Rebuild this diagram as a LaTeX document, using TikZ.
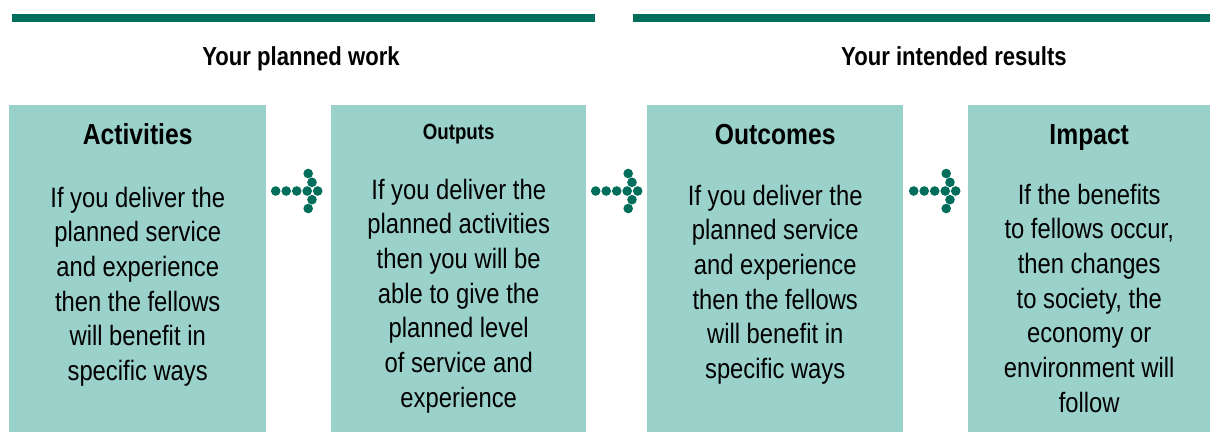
\documentclass[tikz,border=0pt]{standalone}
\usepackage{fontspec}
\setmainfont{Liberation Sans}[FakeStretch=0.85]
\usetikzlibrary{calc,positioning}

\definecolor{leaf}{HTML}{006E5A}
\definecolor{mint}{HTML}{9AD1CA}

\tikzset{
  stage/.style={fill=mint, draw=none, inner sep=0pt, anchor=north west, minimum height=327pt},
  heading/.style={font=\fontsize{26}{30}\selectfont\bfseries, anchor=base, inner sep=0pt},
  title/.style={font=\fontsize{29}{34}\selectfont\bfseries, anchor=base, inner sep=0pt},
  body/.style={font=\fontsize{28}{34.7}\selectfont, align=center, anchor=north, inner sep=0pt},
  dotarrow/.pic={
    % shaft of five dots, then the two arms of the head
    \foreach \x in {-42,-31.5,-21,-10.5,0}
      \fill[leaf] (\x,0) circle (4.8pt);
    \foreach \s in {1,-1} {
      \fill[leaf] (-5.7,8.7*\s) circle (4.8pt);
      \fill[leaf] (-9.5,17.5*\s) circle (4.8pt);
    }
  }
}

\begin{document}
\begin{tikzpicture}[x=1pt,y=-1pt]
	\useasboundingbox (0,0) rectangle (1210,432);
	% the two bars on top
	\fill[leaf] (12,14) rectangle (595,22);
	\fill[leaf] (633,14) rectangle (1210,22);
	\node[heading] (work) at (301,65) {Your planned work};
	\node[heading] (results) at (954,65) {Your intended results};
	% the four stages
	\node[stage, minimum width=257pt] (act) at (9,105) {};
	\node[stage, minimum width=255pt] (out) at (331,105) {};
	\node[stage, minimum width=256pt] (outc) at (647,105) {};
	\node[stage, minimum width=242pt] (imp) at (968,105) {};
	\node[title] (acttitle) at ($(act.north)+(0,39)$) {Activities};
	\node[title, font=\fontsize{22}{26}\selectfont\bfseries] (outtitle) at ($(out.north)+(0,34)$) {Outputs};
	\node[title] (outctitle) at ($(outc.north)+(0,39)$) {Outcomes};
	\node[title] (imptitle) at ($(imp.north)+(0,39)$) {Impact};
	\node[body] (acttext) at ($(act.north)+(0,81.6)$) {If you deliver the\\planned service\\and experience\\then the fellows\\will benefit in\\specific ways};
	\node[body] (outtext) at ($(out.north)+(0,73.6)$) {If you deliver the\\planned activities\\then you will be\\able to give the\\planned level\\of service and\\experience};
	\node[body] (outctext) at ($(outc.north)+(0,79.6)$) {If you deliver the\\planned service\\and experience\\then the fellows\\will benefit in\\specific ways};
	\node[body] (imptext) at ($(imp.north)+(0,78.6)$) {If the benefits\\to fellows occur,\\then changes\\to society, the\\economy or\\environment will\\follow};
	% dotted arrows between the stages
	\pic at ($(act.north east)!0.5!(out.north west)+(19,86)$) {dotarrow};
	\pic at ($(out.north east)!0.5!(outc.north west)+(21,86)$) {dotarrow};
	\pic at ($(outc.north east)!0.5!(imp.north west)+(20,86)$) {dotarrow};
\end{tikzpicture}
\end{document}
